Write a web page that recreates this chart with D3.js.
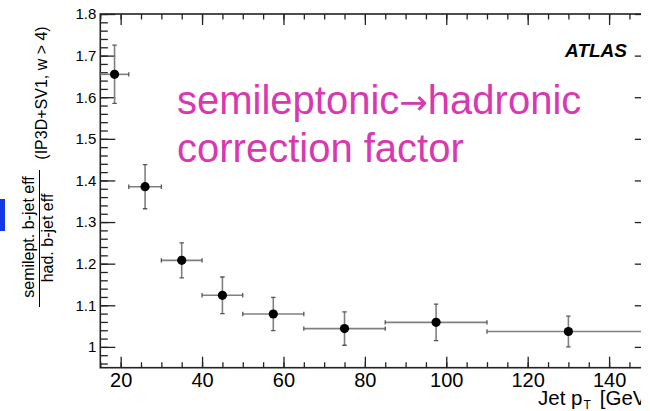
<!DOCTYPE html>
<html>
<head>
<meta charset="utf-8">
<script src="https://cdn.jsdelivr.net/npm/d3@7/dist/d3.min.js"></script>
<style>
  html, body { margin: 0; padding: 0; background: #fff; }
  svg { display: block; font-family: "Liberation Sans", Arial, Helvetica, sans-serif; }
</style>
</head>
<body>
<svg id="chart" width="650" height="411"></svg>
<script>
// Jet pT bins (GeV): lower edge, upper edge
const binLow  = [15, 22, 30, 40, 50, 65, 85, 110];
const binHigh = [22, 30, 40, 50, 65, 85, 110, 150];
// Ratio of semileptonic to hadronic b-jet efficiency, and its uncertainty
const ratio    = [1.655, 1.385, 1.208, 1.124, 1.079, 1.044, 1.059, 1.037];
const ratioErr = [0.070, 0.053, 0.042, 0.044, 0.040, 0.040, 0.044, 0.037];

const xTicks = [20, 40, 60, 80, 100, 120, 140];
const xTickLabels = ["20", "40", "60", "80", "100", "120", "140"];
const yTicks = [1.0, 1.1, 1.2, 1.3, 1.4, 1.5, 1.6, 1.7, 1.8];
const yTickLabels = ["1", "1.1", "1.2", "1.3", "1.4", "1.5", "1.6", "1.7", "1.8"];
const xMinorTicks = d3.range(15, 151, 5);
const yMinorTicks = d3.range(96, 181, 2).map(v => v / 100);

const frame = { left: 100.3, right: 649.8, top: 14, bottom: 367.7 };

const svg = d3.select("#chart");

svg.append("defs").append("clipPath").attr("id", "cut")
  .append("rect").attr("x", 0).attr("y", 0).attr("width", 641).attr("height", 411);

const g = svg.append("g").attr("clip-path", "url(#cut)");

const x = d3.scaleLinear().domain([15, 150]).range([frame.left, frame.right]);
const y = d3.scaleLinear().domain([0.95, 1.8]).range([frame.bottom, frame.top]);

const tickColor = "#222";

function styleAxis(sel) {
  sel.select(".domain").remove();
  sel.selectAll(".tick line").attr("stroke", tickColor).attr("stroke-width", 1.3);
}

// Minor ticks on all four sides
g.append("g").attr("transform", `translate(0,${frame.bottom})`)
  .call(d3.axisBottom(x).tickValues(xMinorTicks).tickSize(-5.5).tickFormat(""))
  .call(styleAxis);
g.append("g").attr("transform", `translate(0,${frame.top})`)
  .call(d3.axisTop(x).tickValues(xMinorTicks).tickSize(-5.5).tickFormat(""))
  .call(styleAxis);
g.append("g").attr("transform", `translate(${frame.left},0)`)
  .call(d3.axisLeft(y).tickValues(yMinorTicks).tickSize(-7.5).tickFormat(""))
  .call(styleAxis);
g.append("g").attr("transform", `translate(${frame.right},0)`)
  .call(d3.axisRight(y).tickValues(yMinorTicks).tickSize(-7.5).tickFormat(""))
  .call(styleAxis);

// Major ticks and labels
const xAxis = g.append("g").attr("transform", `translate(0,${frame.bottom})`)
  .call(d3.axisBottom(x).tickValues(xTicks).tickSize(-11).tickPadding(5)
    .tickFormat((d, i) => xTickLabels[i]))
  .call(styleAxis);
xAxis.selectAll("text").attr("font-size", 20).attr("fill", "#000")
  .attr("font-family", "Liberation Sans, Arial, sans-serif");

g.append("g").attr("transform", `translate(0,${frame.top})`)
  .call(d3.axisTop(x).tickValues(xTicks).tickSize(-11).tickFormat(""))
  .call(styleAxis);

const yAxis = g.append("g").attr("transform", `translate(${frame.left},0)`)
  .call(d3.axisLeft(y).tickValues(yTicks).tickSize(-15).tickPadding(4)
    .tickFormat((d, i) => yTickLabels[i]))
  .call(styleAxis);
yAxis.selectAll("text").attr("font-size", 15).attr("fill", "#000")
  .attr("font-family", "Liberation Sans, Arial, sans-serif");

g.append("g").attr("transform", `translate(${frame.right},0)`)
  .call(d3.axisRight(y).tickValues(yTicks).tickSize(-15).tickFormat(""))
  .call(styleAxis);

// Frame
g.append("rect")
  .attr("x", frame.left).attr("y", frame.top)
  .attr("width", frame.right - frame.left).attr("height", frame.bottom - frame.top)
  .attr("fill", "none").attr("stroke", "#222").attr("stroke-width", 1.6);

// Points with error bars
const pts = ratio.map((v, i) => ({
  lo: binLow[i], hi: binHigh[i], c: (binLow[i] + binHigh[i]) / 2, v: v, e: ratioErr[i]
}));

const errColor = "#808080";
const cap = 2.2;
const pg = g.append("g").selectAll("g").data(pts).join("g");

pg.append("line")
  .attr("x1", d => x(d.lo)).attr("x2", d => x(d.hi))
  .attr("y1", d => y(d.v)).attr("y2", d => y(d.v))
  .attr("stroke", errColor).attr("stroke-width", 1.6);
pg.append("line")
  .attr("x1", d => x(d.c)).attr("x2", d => x(d.c))
  .attr("y1", d => y(d.v - d.e)).attr("y2", d => y(d.v + d.e))
  .attr("stroke", errColor).attr("stroke-width", 1.6);
// End caps
pg.append("path")
  .attr("d", d => {
    const xl = x(d.lo), xh = x(d.hi), xc = x(d.c);
    const yv = y(d.v), yl = y(d.v - d.e), yh = y(d.v + d.e);
    return `M${xl},${yv - cap}V${yv + cap}M${xh},${yv - cap}V${yv + cap}` +
           `M${xc - cap},${yl}H${xc + cap}M${xc - cap},${yh}H${xc + cap}`;
  })
  .attr("stroke", "#555").attr("stroke-width", 1.3).attr("fill", "none");
pg.append("circle")
  .attr("cx", d => x(d.c)).attr("cy", d => y(d.v)).attr("r", 4.6)
  .attr("fill", "#000");

// Axis titles
const xt = g.append("text")
  .attr("x", 538).attr("y", 405)
  .attr("font-size", 20.5).attr("fill", "#000");
xt.append("tspan").text("Jet p");
xt.append("tspan").attr("font-size", 12).attr("dy", 4).attr("dx", 1).text("T");
xt.append("tspan").attr("dy", -4).attr("dx", 9).text("[GeV]");

const yt = svg.append("g");
yt.append("text")
  .attr("transform", "translate(34,237) rotate(-90)")
  .attr("text-anchor", "middle").attr("font-size", 16).text("semilept. b-jet eff");
yt.append("line")
  .attr("x1", 39.5).attr("x2", 39.5).attr("y1", 170).attr("y2", 307)
  .attr("stroke", "#000").attr("stroke-width", 1);
yt.append("text")
  .attr("transform", "translate(53,238) rotate(-90)")
  .attr("text-anchor", "middle").attr("font-size", 16).text("had. b-jet eff");
yt.append("text")
  .attr("transform", "translate(47,93) rotate(-90)")
  .attr("text-anchor", "middle").attr("font-size", 16).text("(IP3D+SV1, w > 4)");

// ATLAS label
svg.append("text")
  .attr("x", 627).attr("y", 57).attr("text-anchor", "end")
  .attr("font-size", 19).attr("font-weight", "bold").attr("font-style", "italic")
  .text("ATLAS");

// Annotation
const note = svg.append("text").attr("fill", "#d838b0").attr("font-size", 40);
const line1 = note.append("tspan").attr("x", 177).attr("y", 114);
line1.append("tspan").text("semileptonic");
line1.append("tspan").attr("font-family", "DejaVu Sans").attr("font-size", 34).text("\u2192");
line1.append("tspan").text("hadronic");
note.append("tspan").attr("x", 177).attr("y", 162).text("correction factor");

// Slide marker
svg.append("rect").attr("x", 0).attr("y", 199).attr("width", 5).attr("height", 32)
  .attr("fill", "#1437e6");
</script>
</body>
</html>
